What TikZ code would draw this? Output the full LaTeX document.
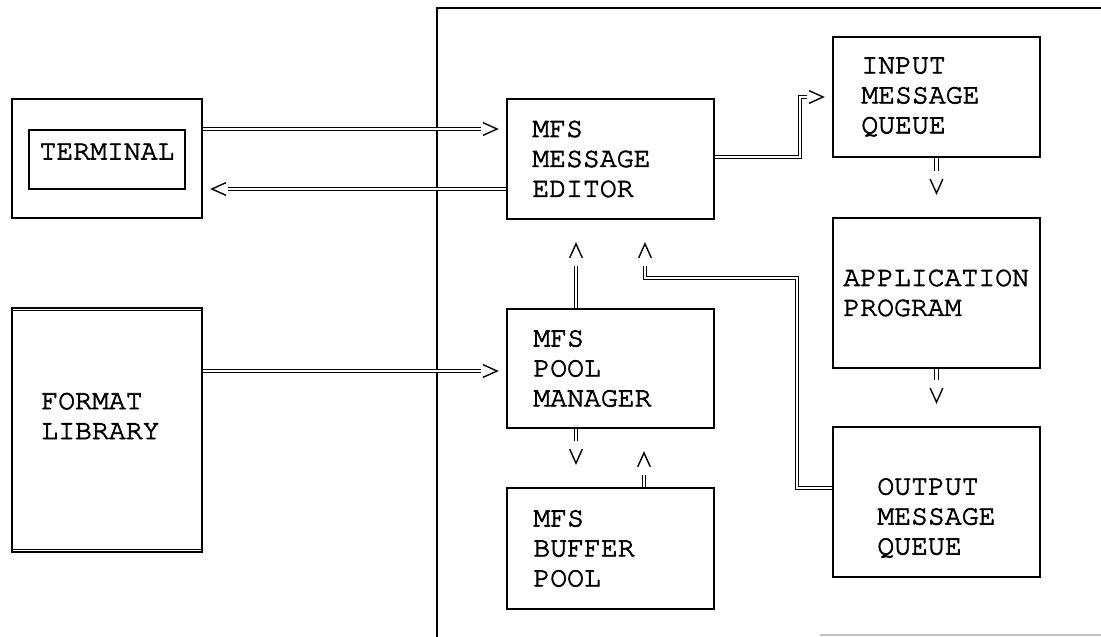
\documentclass[tikz,border=0pt]{standalone}
\usepackage{fontspec}
\newfontfamily\typerfont[FakeBold=2.6]{TeX Gyre Cursor}
\usetikzlibrary{positioning, fit, calc, decorations.markings}

\begin{document}
\begin{tikzpicture}[x=0.025cm, y=-0.025cm,
  box/.style={draw, line width=1.3pt, inner sep=0pt},
  txt/.style={font=\typerfont\fontsize{20}{21.3}\selectfont, align=left, inner sep=0pt},
  conn/.style 2 args={draw, double, line width=0.75pt, double distance=1.7pt,
        shorten >=#2,
        postaction={decorate, decoration={markings,
          mark=at position -#1 with {\draw[line width=1pt, shorten >=0pt, shorten <=0pt]
            (-10pt,4.5pt) -- (0pt,0pt) -- (-10pt,-4.5pt);}}}},
  hconn/.style={conn={6.4pt}{18pt}},
  vconn/.style={conn={17pt}{33pt}},
]
  \useasboundingbox (0,0) rectangle (1101,637);

  % frame round the message processing region
  \draw[line width=1.3pt] (437,637) -- (437,8) -- (1101,8);
  \draw[gray!50, line width=0.8pt] (820,635) -- (1101,635);

  % outside devices
  \node[box, fit={(12,99) (202,218)}] (term) {};
  \node[box, txt, fit={(29,130) (185,189)}] (termin) {TERMINAL};

  \node[box, fit={(12,308) (202,552)}] (fmt) {};
  \draw[line width=0.75pt] ([yshift=-2.6pt]fmt.north west) -- ([yshift=-2.6pt]fmt.north east);
  \draw[line width=0.75pt] ([yshift=2.6pt]fmt.south west) -- ([yshift=2.6pt]fmt.south east);
  \node[txt, right=0.75cm of fmt.west, yshift=0.35cm] (fmttxt) {FORMAT\\LIBRARY};

  % MFS blocks
  \node[box, fit={(507,99) (714,219)}] (ed) {};
  \node[txt, right=0.65cm of ed.west] (edtxt) {MFS\\MESSAGE\\EDITOR};

  \node[box, fit={(507,309) (714,428)}] (pm) {};
  \node[txt, right=0.675cm of pm.west] (pmtxt) {MFS\\POOL\\MANAGER};

  \node[box, fit={(507,488) (714,609)}] (bp) {};
  \node[txt, right=0.675cm of bp.west] (bptxt) {MFS\\BUFFER\\POOL};

  % queues and program
  \node[box, fit={(833,37) (1040,157)}] (iq) {};
  \node[txt, right=0.725cm of iq.west] (iqtxt) {INPUT\\MESSAGE\\QUEUE};

  \node[box, fit={(833,218) (1040,368)}] (ap) {};
  \node[txt, right=0.275cm of ap.west] (aptxt) {APPLICATION\\PROGRAM};

  \node[box, fit={(833,427) (1040,577)}] (oq) {};
  \node[txt, right=1.125cm of oq.west, yshift=-0.4cm] (oqtxt) {OUTPUT\\MESSAGE\\QUEUE};

  % connectors
  \draw[hconn] (term.east |- 0,129) -- (ed.west |- 0,129);
  \draw[hconn] (ed.west |- 0,189) -- (term.east |- 0,189);
  \draw[hconn] (fmt.east |- 0,371) -- (pm.west |- 0,371);
  \draw[hconn] (ed.east |- 0,157) -| (800,97) -- (iq.west |- 0,97);

  \draw[vconn] (iq.south) -- (iq.south |- ap.north);
  \draw[vconn] (ap.south) -- (ap.south |- oq.north);
  \draw[vconn] (576,0 |- pm.north) -- (576,0 |- ed.south);
  \draw[vconn] (576,0 |- pm.south) -- (576,0 |- bp.north);
  \draw[vconn] (644,0 |- bp.north) -- (644,0 |- pm.south);
  \draw[vconn] (oq.west |- 0,488) -| (797,278) -| (645,0 |- ed.south);
\end{tikzpicture}
\end{document}
